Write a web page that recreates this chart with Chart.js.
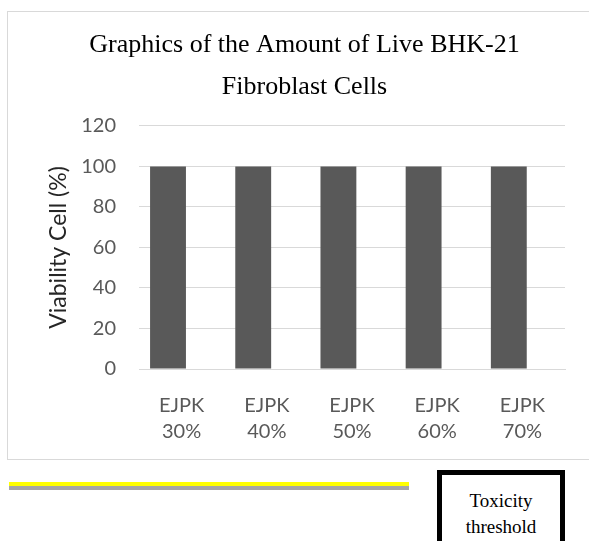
<!DOCTYPE html>
<html lang="en">

<head>
  <meta charset="UTF-8">
  <title>Viability BHK-21</title>
  <script src="https://cdn.jsdelivr.net/npm/chart.js"></script>
</head>

<style>
  body {
    margin: 0;
    background: #fff;
    overflow: hidden;
    width: 589px;
    height: 541px;
    position: relative;
  }

  .frame {
    position: absolute;
    left: 7px;
    top: 11px;
    width: 620px;
    height: 447px;
    border: 1px solid #d9d9d9;
  }

  .chart {
    position: absolute;
    left: 8px;
    top: 12px;
    width: 580px;
    height: 446px;
  }

  .threshold {
    position: absolute;
    left: 9px;
    top: 482px;
    width: 400px;
    height: 4px;
    background: #ffff00;
    border-bottom: 4px solid #a6a6a6;
  }

  .toxBox {
    position: absolute;
    left: 437px;
    top: 470px;
    width: 128px;
    height: 80px;
    border: 5px solid #000;
    font-family: "Liberation Serif", serif;
    font-size: 19px;
    line-height: 26px;
    text-align: center;
    padding-top: 13px;
    box-sizing: border-box;
    color: #000;
  }
</style>

<body>
  <div class="frame"></div>
  <div class="chart">
    <canvas id="viabilityChart"></canvas>
  </div>
  <div class="threshold"></div>
  <div class="toxBox">Toxicity<br>threshold</div>

  <script>
    // data
    const categories = [['EJPK', '30%'], ['EJPK', '40%'], ['EJPK', '50%'], ['EJPK', '60%'], ['EJPK', '70%']];
    const viability = [100, 100, 100, 100, 100];
    const emptySeries = [null, null, null, null, null];
    const yTicks = [0, 20, 40, 60, 80, 100, 120];
    const chartTitle = ['Graphics of the Amount of Live BHK-21', 'Fibroblast Cells'];
    const yTitle = 'Viability Cell (%)';

    const sans = 'Lato';
    const grey = '#595959';

    // nudge the title a bit right, it is centred on the whole frame in the original
    const titleShift = {
      id: 'titleShift',
      afterLayout(chart) {
        chart.titleBlock.left += 36;
      }
    };

    const ctx = document.getElementById('viabilityChart');
    const viabilityChart = new Chart(ctx, {
      type: 'bar',
      data: {
        labels: categories,
        datasets: [{
          label: 'Viability',
          data: viability,
          backgroundColor: '#595959',
          borderWidth: 0,
          categoryPercentage: 0.638,
          barPercentage: 1.32
        }, {
          // empty second series keeps the bars off-centre like the original
          label: '',
          data: emptySeries,
          backgroundColor: 'rgba(0,0,0,0)',
          categoryPercentage: 0.638,
          barPercentage: 1.32
        }]
      },
      options: {
        responsive: true,
        maintainAspectRatio: false,
        animation: false,
        layout: {
          padding: { left: 0, right: 23, top: 0, bottom: 0 }
        },
        plugins: {
          legend: { display: false },
          tooltip: { enabled: false },
          title: {
            display: true,
            text: chartTitle,
            color: '#000',
            font: { family: 'Liberation Serif', size: 26, weight: 'normal', lineHeight: 1.615 },
            padding: { top: 12.5, bottom: 17.5 }
          }
        },
        scales: {
          x: {
            grid: { display: false },
            border: { color: '#d9d9d9', width: 1 },
            ticks: {
              color: grey,
              padding: 16,
              maxRotation: 0,
              font: { family: sans, size: 20, lineHeight: 1.3 }
            },
            afterFit: (scale) => { scale.height = 89; }
          },
          y: {
            min: 0,
            max: 120,
            afterBuildTicks: (scale) => { scale.ticks = yTicks.map(v => ({ value: v })); },
            grid: { color: '#d9d9d9', lineWidth: 1, drawTicks: false },
            border: { display: false },
            ticks: {
              color: grey,
              padding: 23,
              font: { family: sans, size: 20 }
            },
            title: {
              display: true,
              text: yTitle,
              color: '#262626',
              font: { family: sans, size: 23, lineHeight: 1.2 },
              padding: { top: 37, bottom: 0 }
            },
            afterFit: (scale) => { scale.width = 131; }
          }
        }
      },
      plugins: [titleShift]
    });
  </script>
</body>

</html>
